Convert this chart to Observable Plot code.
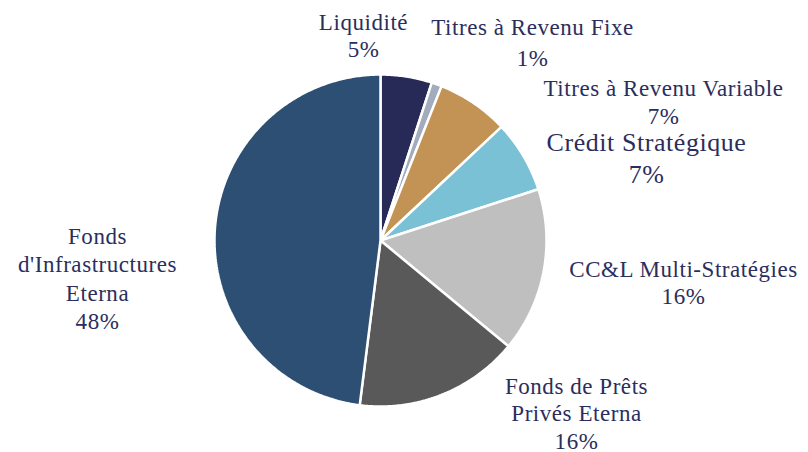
<!DOCTYPE html>
<html>
<head>
<meta charset="utf-8">
<script src="https://cdn.jsdelivr.net/npm/d3@7"></script>
<script src="https://cdn.jsdelivr.net/npm/@observablehq/plot@0.6"></script>
<style>
  html, body { margin: 0; padding: 0; background: #fff; }
  #chart svg { display: block; overflow: visible; }
</style>
</head>
<body>
<div id="chart"></div>
<script>
// ---- data ----
const categories = [
  "Liquidité",
  "Titres à Revenu Fixe",
  "Titres à Revenu Variable",
  "Crédit Stratégique",
  "CC&L Multi-Stratégies",
  "Fonds de Prêts\nPrivés Eterna",
  "Fonds\nd'Infrastructures\nEterna"
];
const values = [5, 1, 7, 7, 16, 16, 48];
const colors = ["#272a56", "#a2acbd", "#c39355", "#7bc1d6", "#bfbfbf", "#595959", "#2d4f73"];

// ---- layout (pixels) ----
const W = 808, H = 452;
const cx = 380, cy = 240, R = 166;
// label anchor: centre x, first baseline y, line spacing, font size
const labelLayout = [
  {x: 363, y: 29, lh: 27, fs: 23},
  {x: 532, y: 34, lh: 31, fs: 23},
  {x: 663, y: 95, lh: 28, fs: 23},
  {x: 646, y: 150, lh: 32, fs: 26},
  {x: 683, y: 276, lh: 27, fs: 23},
  {x: 576, y: 393, lh: 27.5, fs: 23},
  {x: 97,  y: 243, lh: 28.5, fs: 23}
];

const pie = d3.pie().sort(null).value(d => d)(values);
const toX = px => (px - cx) / R;
const toY = py => (cy - py) / R;

// slice polygons in data units (unit circle)
const polys = [];
pie.forEach((p, i) => {
  const name = categories[i];
  polys.push({name, x: 0, y: 0});
  const n = Math.max(4, Math.ceil((p.endAngle - p.startAngle) / 0.01));
  for (let k = 0; k <= n; k++) {
    const a = p.startAngle + (p.endAngle - p.startAngle) * k / n;
    polys.push({name, x: Math.sin(a), y: Math.cos(a)});
  }
});

// label lines
const labels = [];
categories.forEach((c, i) => {
  const L = labelLayout[i];
  const lines = c.split("\n").concat([`${values[i]}%`]);
  lines.forEach((t, j) => {
    labels.push({text: t, x: toX(L.x), y: toY(L.y + j * L.lh), fs: L.fs});
  });
});

const chart = Plot.plot({
  width: W,
  height: H,
  marginLeft: cx - R,
  marginRight: W - (cx + R),
  marginTop: cy - R,
  marginBottom: H - (cy + R),
  x: {domain: [-1, 1], axis: null},
  y: {domain: [-1, 1], axis: null},
  color: {domain: categories, range: colors},
  marks: [
    Plot.line(polys, {x: "x", y: "y", z: "name", fill: "name", stroke: "#fff", strokeWidth: 2.5, curve: "linear-closed", strokeLinejoin: "miter"}),
    Plot.text(labels, {x: "x", y: "y", text: "text", fontSize: "fs", fontFamily: "Liberation Serif", lineAnchor: "bottom", textAnchor: "middle", fill: "#2b2e5c"})
  ]
});
d3.select(chart).selectAll("text").style("letter-spacing", "0.55px");
document.getElementById("chart").appendChild(chart);
</script>
</body>
</html>
